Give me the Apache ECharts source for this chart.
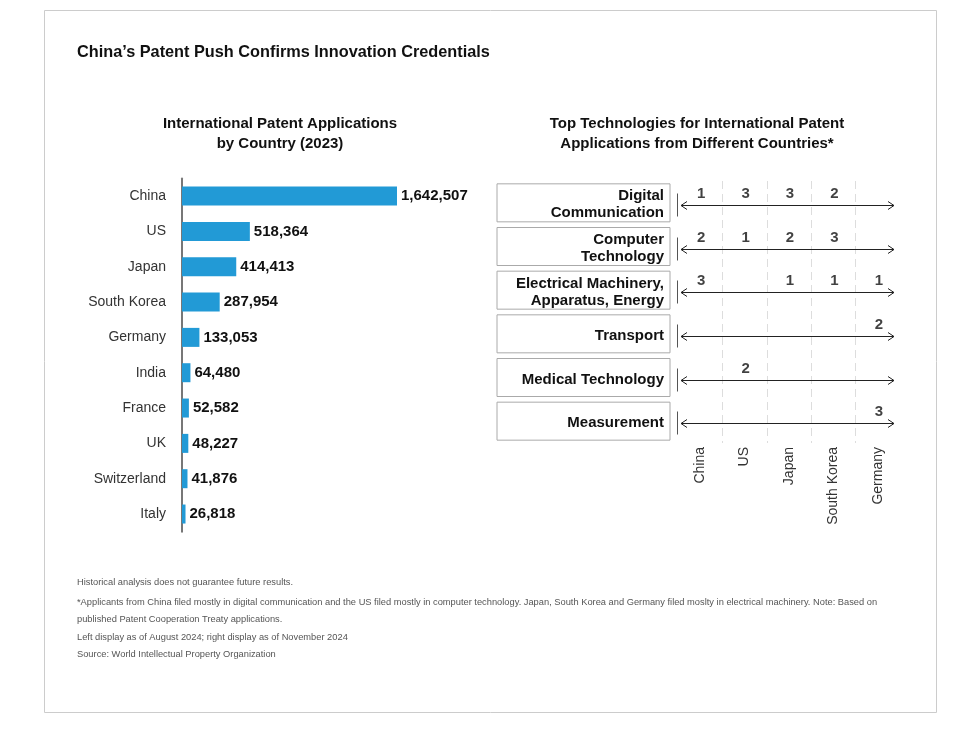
<!DOCTYPE html>
<html>
<head>
<meta charset="utf-8">
<title>China's Patent Push</title>
<script src="https://cdn.jsdelivr.net/npm/echarts@6/dist/echarts.min.js"></script>
<style>
  html, body { margin: 0; padding: 0; background: #fff; }
  #chart { width: 958px; height: 733px; }
</style>
</head>
<body>
<div id="chart"></div>
<script>
// left panel: applications by country (2023)
var countries = ["China", "US", "Japan", "South Korea", "Germany", "India", "France", "UK", "Switzerland", "Italy"];
var applications = [1642507, 518364, 414413, 287954, 133053, 64480, 52582, 48227, 41876, 26818];

// right panel: top technology ranks
var rankCountries = ["China", "US", "Japan", "South Korea", "Germany"];
var technologies = ["Digital\nCommunication", "Computer\nTechnology", "Electrical Machinery,\nApparatus, Energy", "Transport", "Medical Technology", "Measurement"];
// one row per technology, one column per country (null = not in top 3)
var ranks = [
  [1, 3, 3, 2, null],
  [2, 1, 2, 3, null],
  [3, null, 1, 1, 1],
  [null, null, null, null, 2],
  [null, 2, null, null, null],
  [null, null, null, null, 3]
];

var footnotes = [
  "Historical analysis does not guarantee future results.",
  "*Applicants from China filed mostly in digital communication and the US filed mostly in computer technology. Japan, South Korea and Germany filed moslty in electrical machinery. Note: Based on",
  "published Patent Cooperation Treaty applications.",
  "Left display as of August 2024; right display as of November 2024",
  "Source: World Intellectual Property Organization"
];

var sans = "'Liberation Sans', Arial, sans-serif";

var rankPoints = [];
ranks.forEach(function (row, t) {
  row.forEach(function (r, c) {
    if (r != null) rankPoints.push([c, t, r]);
  });
});

var chart = echarts.init(document.getElementById("chart"));

var graphics = [
  {
    type: "rect",
    shape: { x: 44.5, y: 10.5, width: 892, height: 702 },
    style: { fill: "none", stroke: "#cccccc", lineWidth: 1 },
    silent: true
  },
  {
    type: "text", x: 77, y: 53,
    style: { text: "China\u2019s Patent Push Confirms Innovation Credentials", font: "bold 16.3px " + sans, fill: "#111", align: "left", verticalAlign: "middle" }
  },
  {
    type: "text", x: 280, y: 134,
    style: { text: "International Patent Applications\nby Country (2023)", font: "bold 15px " + sans, lineHeight: 20, fill: "#111", align: "center", verticalAlign: "middle" }
  },
  {
    type: "text", x: 697, y: 134,
    style: { text: "Top Technologies for International Patent\nApplications from Different Countries*", font: "bold 15px " + sans, lineHeight: 20, fill: "#111", align: "center", verticalAlign: "middle" }
  }
];
var noteY = [582, 602, 619, 637, 654];
footnotes.forEach(function (txt, i) {
  graphics.push({
    type: "text", x: 77, y: noteY[i],
    style: { text: txt, font: "9.3px " + sans, fill: "#555", align: "left", verticalAlign: "middle" }
  });
});

chart.setOption({
  animation: false,
  backgroundColor: "#fff",
  graphic: graphics,
  grid: [
    { left: 182, top: 178.4, width: 215, height: 353.3 },
    { left: 678, top: 181, width: 222, height: 262 }
  ],
  xAxis: [
    {
      gridIndex: 0, type: "value", min: 0, max: "dataMax", show: false
    },
    {
      gridIndex: 1, type: "category", data: rankCountries, position: "bottom",
      axisLine: { show: false },
      axisTick: { show: false },
      axisLabel: { rotate: 90, margin: 4, interval: 0, color: "#333", fontSize: 14, fontFamily: sans },
      splitLine: { show: true, showMinLine: false, showMaxLine: false, lineStyle: { color: "#dddddd", type: [8, 5], width: 1 } }
    }
  ],
  yAxis: [
    {
      gridIndex: 0, type: "category", data: countries, inverse: true,
      axisLine: { show: true, lineStyle: { color: "#777", width: 2 } },
      axisTick: { show: false },
      axisLabel: { margin: 16, interval: 0, color: "#333", fontSize: 14, fontFamily: sans }
    },
    {
      gridIndex: 1, type: "category", data: technologies, inverse: true,
      axisLine: { show: false },
      axisTick: { show: false },
      axisLabel: {
        margin: 8, interval: 0, align: "right",
        width: 161, padding: [4, 6, 0, 6],
        borderColor: "#aaaaaa", borderWidth: 1,
        formatter: function (v) {
          var lines = v.split("\n");
          var tag = lines.length > 1 ? "two" : "one";
          return lines.map(function (l) { return "{" + tag + "|" + l + "}"; }).join("\n");
        },
        rich: {
          one: { fontSize: 15, fontWeight: "bold", fontFamily: sans, color: "#111", lineHeight: 34, align: "right" },
          two: { fontSize: 15, fontWeight: "bold", fontFamily: sans, color: "#111", lineHeight: 17, align: "right" }
        }
      }
    }
  ],
  series: [
    {
      type: "bar", xAxisIndex: 0, yAxisIndex: 0,
      data: applications, barWidth: 19,
      itemStyle: { color: "#229ad6" },
      label: {
        show: true, position: "right", distance: 4,
        color: "#111", fontSize: 15, fontWeight: "bold", fontFamily: sans,
        formatter: function (p) { return p.value.toLocaleString("en-US"); }
      },
      silent: true
    },
    {
      type: "custom", xAxisIndex: 1, yAxisIndex: 1,
      data: technologies.map(function (t, i) { return [0, i]; }),
      encode: { x: 0, y: 1 },
      renderItem: function (params, api) {
        var c = api.coord([api.value(0), api.value(1)]);
        var cs = params.coordSys;
        var y = Math.round(c[1] + 2) + 0.5;
        var x0 = cs.x, x1 = cs.x + cs.width;
        var st = { stroke: "#222", lineWidth: 1, fill: null };
        return {
          type: "group",
          children: [
            { type: "line", shape: { x1: x0 - 0.5, y1: y - 12, x2: x0 - 0.5, y2: y + 11 }, style: { stroke: "#555", lineWidth: 1 } },
            { type: "line", shape: { x1: x0 + 3, y1: y, x2: x1 - 6, y2: y }, style: st },
            { type: "polyline", shape: { points: [[x0 + 9, y - 4], [x0 + 3, y], [x0 + 9, y + 4]] }, style: st },
            { type: "polyline", shape: { points: [[x1 - 12, y - 4], [x1 - 6, y], [x1 - 12, y + 4]] }, style: st }
          ]
        };
      },
      silent: true
    },
    {
      type: "scatter", xAxisIndex: 1, yAxisIndex: 1,
      data: rankPoints, symbolSize: 1,
      itemStyle: { color: "transparent" },
      label: {
        show: true, position: "inside", offset: [1, -9],
        color: "#111", fontSize: 15, fontWeight: "bold", fontFamily: sans,
        formatter: function (p) { return p.value[2]; }
      },
      silent: true
    }
  ]
});
</script>
</body>
</html>
